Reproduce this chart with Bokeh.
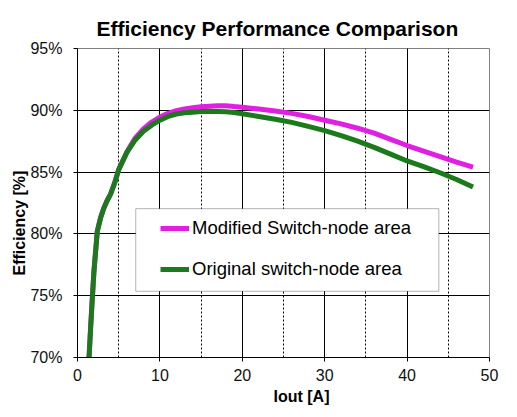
from bokeh.plotting import figure
from bokeh.models import (Range1d, SingleIntervalTicker, PrintfTickFormatter,
                          Title, Legend, LegendItem, BoxAnnotation)
from bokeh.embed import file_html
from bokeh.resources import INLINE

# load current [A]
iout_orig = [1.4, 1.6, 1.8, 2.0, 2.4, 2.8, 3.2, 3.6, 4.0, 4.5, 5.0, 6.0, 7.0, 8.0, 9.0,
             10, 11, 12, 13, 14, 15, 16, 17, 18, 19, 20, 22, 24, 26, 28, 30, 32, 34,
             36, 38, 40, 42, 44, 46, 48]
eff_orig = [70.0, 72.5, 74.8, 77.0, 80.2, 81.3, 82.1, 82.7, 83.2, 84.1, 85.2, 86.6, 87.6,
            88.3, 88.8, 89.2, 89.5, 89.7, 89.8, 89.85, 89.9, 89.92, 89.9, 89.88, 89.82,
            89.72, 89.5, 89.28, 89.02, 88.7, 88.35, 87.95, 87.5, 87.0, 86.45, 85.9, 85.45,
            84.95, 84.4, 83.8]

iout_mod = [1.4, 1.6, 1.8, 2.0, 2.4, 2.8, 3.2, 3.6, 4.0, 4.5, 5.0, 6.0, 7.0, 8.0, 9.0,
            10, 11, 12, 13, 14, 15, 16, 17, 18, 19, 20, 22, 24, 26, 28, 30, 32, 34,
            36, 38, 40, 42, 44, 46, 48]
eff_mod = [70.0, 72.5, 74.8, 77.0, 80.2, 81.3, 82.1, 82.7, 83.2, 84.1, 85.2, 86.65, 87.75,
           88.5, 89.05, 89.45, 89.75, 89.97, 90.1, 90.2, 90.28, 90.33, 90.37, 90.36, 90.3,
           90.25, 90.1, 89.95, 89.75, 89.5, 89.2, 88.9, 88.55, 88.15, 87.65, 87.15, 86.7,
           86.25, 85.8, 85.4]

label_mod = "Modified Switch-node area"
label_orig = "Original switch-node area"

p = figure(width=517, height=417, output_backend="svg", toolbar_location=None,
           x_range=Range1d(0, 50), y_range=Range1d(70, 95),
           min_border_left=77, min_border_right=28, min_border_top=48, min_border_bottom=60)
p.background_fill_color = "white"
p.border_fill_color = "white"
p.outline_line_color = "#808080"

# axes
for ax in (p.xaxis[0], p.yaxis[0]):
    ax.axis_line_color = "black"
    ax.major_tick_line_color = "black"
    ax.major_tick_out = 4
    ax.major_tick_in = 0
    ax.minor_tick_line_color = None
    ax.major_label_text_font = "Liberation Sans"
    ax.major_label_text_font_size = "16px"
    ax.major_label_text_color = "#111111"

p.xaxis.ticker = SingleIntervalTicker(interval=10, num_minor_ticks=2)
p.yaxis.ticker = SingleIntervalTicker(interval=5, num_minor_ticks=0)
p.yaxis.formatter = PrintfTickFormatter(format="%d%%")
p.xaxis.major_label_standoff = 7
p.yaxis.major_label_standoff = 11

# grid: solid majors, dotted minors on x
p.xgrid.grid_line_color = "black"
p.xgrid.minor_grid_line_color = "black"
p.xgrid.minor_grid_line_dash = "2 2"
p.ygrid.grid_line_color = "black"

r_mod = p.line(iout_mod, eff_mod, line_color="#e01fe0", line_width=5)
r_orig = p.line(iout_orig, eff_orig, line_color="#1b7a1b", line_width=5)

# legend frame
p.add_layout(BoxAnnotation(left=7.07, right=43.85, bottom=75.36, top=82.04,
                           fill_color="white", fill_alpha=1.0,
                           line_color="black", line_width=1))

legend = Legend(items=[LegendItem(label=label_mod, renderers=[r_mod]),
                       LegendItem(label=label_orig, renderers=[r_orig])],
                location=(83, 77), padding=0, margin=0, spacing=19,
                glyph_width=29, glyph_height=22, label_height=22, label_standoff=3,
                label_text_font="Liberation Sans", label_text_font_size="18.5px",
                label_text_color="black",
                background_fill_alpha=0, border_line_color=None)
p.add_layout(legend)

p.add_layout(Title(text="Efficiency Performance Comparison", align="left", offset=19,
                   standoff=17, text_font="Liberation Sans", text_font_style="bold",
                   text_font_size="21px", text_color="black"), "above")
p.add_layout(Title(text="Iout [A]", align="left", offset=196, standoff=5,
                   text_font="Liberation Sans", text_font_style="bold",
                   text_font_size="16px", text_color="black"), "below")
p.add_layout(Title(text="Efficiency [%]", align="left", offset=82, standoff=0,
                   text_font="Liberation Sans", text_font_style="bold",
                   text_font_size="16px", text_color="black"), "left")

open("out.html", "w").write(file_html(p, INLINE))
